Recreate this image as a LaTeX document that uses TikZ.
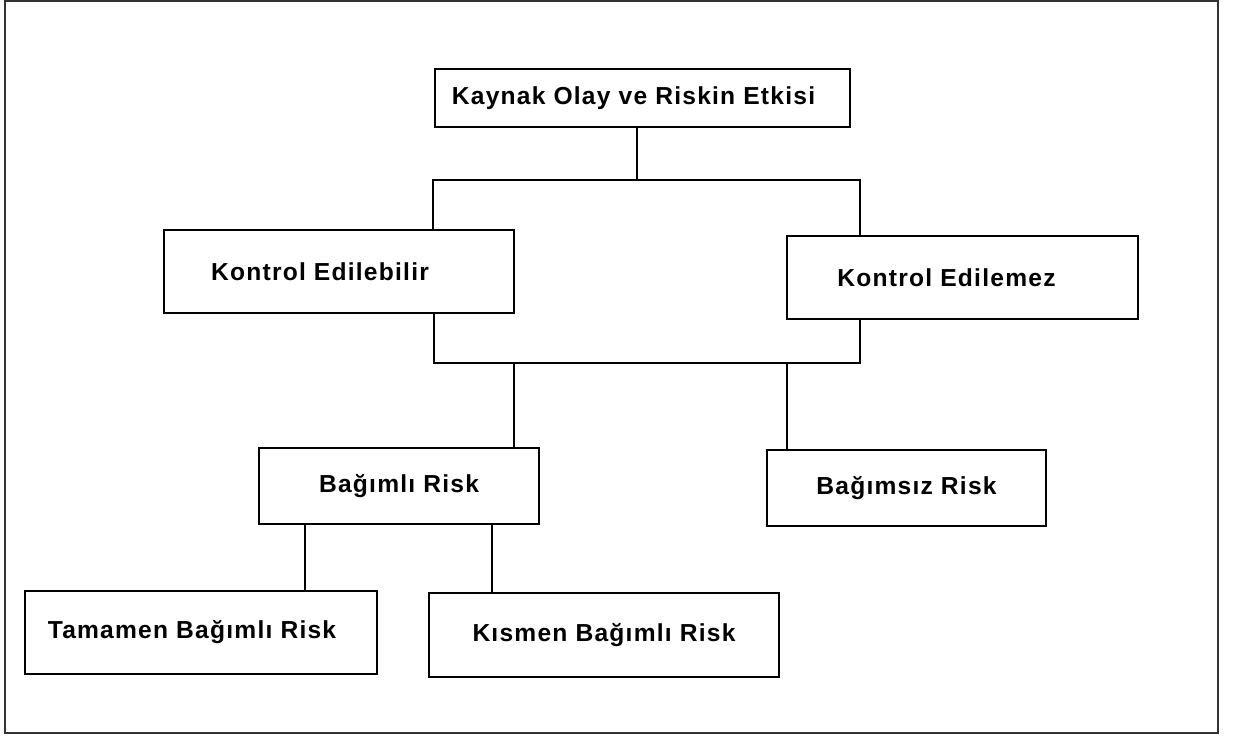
\documentclass[tikz,border=0pt]{standalone}
\usepackage{fontspec}
\usepackage{tikz}
\newfontfamily\boxfont{Liberation Sans}[LetterSpace=5]
% pushes a box text to the left by half the given length
\newcommand{\padright}[1]{\hspace*{#1}}

\begin{document}
\begin{tikzpicture}[x=0.02cm, y=-0.02cm, line width=0.8pt]
  \tikzstyle{riskbox}=[draw=black, fill=white, inner sep=0pt, outer sep=0pt,
                       font=\boxfont\bfseries\fontsize{14}{16}\selectfont]

  \useasboundingbox (0,0) rectangle (1237,735);
  \draw[black!80, line width=1pt] (5,1) rectangle (1218,733);

  \node[riskbox, minimum width=8.3cm,  minimum height=1.16cm] (kaynak)   at (642.5,98)  {Kaynak Olay ve Riskin Etkisi\padright{0.36cm}};
  \node[riskbox, minimum width=7cm,    minimum height=1.66cm] (kedil)    at (339,271.5) {Kontrol Edilebilir\padright{0.76cm}};
  \node[riskbox, minimum width=7.02cm, minimum height=1.66cm] (kedilmez) at (962.5,277.5) {Kontrol Edilemez\padright{0.64cm}};
  \node[riskbox, minimum width=5.6cm,  minimum height=1.52cm] (bagimli)  at (399,486)   {Bağımlı Risk};
  \node[riskbox, minimum width=5.58cm, minimum height=1.52cm] (bagimsiz) at (906.5,488) {Bağımsız Risk};
  \node[riskbox, minimum width=7.04cm, minimum height=1.66cm] (tamamen)  at (201,632.5) {Tamamen Bağımlı Risk\padright{0.36cm}};
  \node[riskbox, minimum width=7cm,    minimum height=1.68cm] (kismen)   at (604,635)   {Kısmen Bağımlı Risk};

  % junctions
  \coordinate (split1) at (637,180);
  \coordinate (hl1) at (433,180);
  \coordinate (hr1) at (860,180);
  \coordinate (hl2) at (434,363);
  \coordinate (hr2) at (860,363);
  \coordinate (d1) at (514,363);
  \coordinate (d2) at (787,363);
  \coordinate (t1) at (305,560);
  \coordinate (t2) at (492,560);

  \draw (kaynak.south -| split1) -- (split1);
  \draw (kedil.north -| hl1) -- (hl1) -- (hr1) -- (kedilmez.north -| hr1);
  \draw (kedil.south -| hl2) -- (hl2) -- (hr2) -- (kedilmez.south -| hr2);
  \draw (d1) -- (bagimli.north -| d1);
  \draw (d2) -- (bagimsiz.north -| d2);
  \draw (bagimli.south -| t1) -- (tamamen.north -| t1);
  \draw (bagimli.south -| t2) -- (kismen.north -| t2);
\end{tikzpicture}
\end{document}
